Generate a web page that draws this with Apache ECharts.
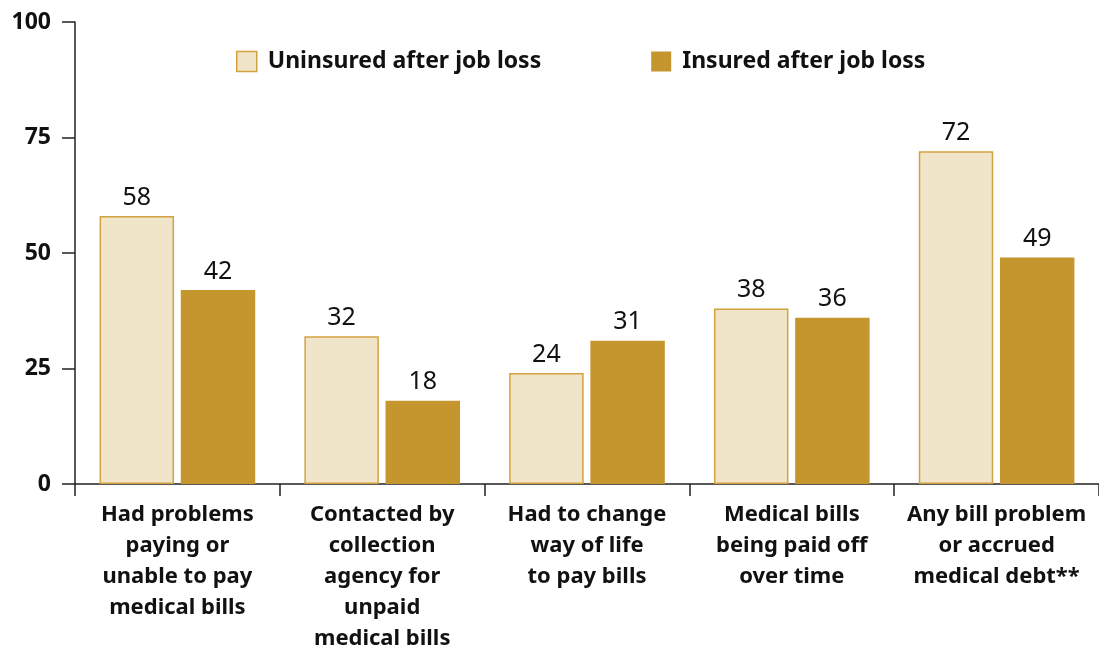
<!DOCTYPE html>
<html>
<head>
<meta charset="utf-8">
<script src="https://cdn.jsdelivr.net/npm/echarts@6/dist/echarts.min.js"></script>
<style>
  html, body { margin: 0; padding: 0; background: #fff; }
  #chart { width: 1099px; height: 654px; }
</style>
</head>
<body>
<div id="chart"></div>
<script>
// data
const categories = [
  "Had problems\npaying or\nunable to pay\nmedical bills",
  "Contacted by\ncollection\nagency for\nunpaid\nmedical bills",
  "Had to change\nway of life\nto pay bills",
  "Medical bills\nbeing paid off\nover time",
  "Any bill problem\nor accrued\nmedical debt**"
];
const uninsured = [58, 32, 24, 38, 72];
const insured = [42, 18, 31, 36, 49];
const seriesNames = ["Uninsured after job loss", "Insured after job loss"];

const FONT = "'Noto Sans', sans-serif";
const LIGHT = "#F0E5C8";
const LIGHT_BORDER = "#D3A240";
const DARK = "#C6962E";

const chart = echarts.init(document.getElementById("chart"));

chart.setOption({
  animation: false,
  textStyle: { fontFamily: FONT, color: "#111" },
  grid: { left: 75, right: 0, top: 22, bottom: 170, outerBoundsMode: "none" },
  legend: {
    left: 231,
    top: 45,
    itemWidth: 20,
    itemHeight: 20,
    itemGap: 110,
    textStyle: { fontSize: 23, fontWeight: "bold", color: "#111", padding: [0, 0, 0, 6] },
    data: [
      { name: seriesNames[0], icon: "rect", itemStyle: { color: LIGHT, borderColor: LIGHT_BORDER, borderWidth: 1.5 } },
      { name: seriesNames[1], icon: "rect", itemStyle: { color: DARK, borderWidth: 0 } }
    ]
  },
  xAxis: {
    type: "category",
    data: categories,
    axisLine: { lineStyle: { color: "#222", width: 1.5 } },
    axisTick: { show: true, length: 12, lineStyle: { color: "#222", width: 1.5 } },
    axisLabel: {
      interval: 0,
      margin: 15,
      fontSize: 22,
      fontWeight: "bold",
      lineHeight: 31,
      color: "#111"
    }
  },
  yAxis: {
    type: "value",
    min: 0,
    max: 100,
    interval: 25,
    splitLine: { show: false },
    axisLine: { show: true, lineStyle: { color: "#222", width: 1.5 } },
    axisTick: { show: true, length: 13, lineStyle: { color: "#222", width: 1.5 } },
    axisLabel: { margin: 24, fontSize: 23, fontWeight: "bold", color: "#111" }
  },
  series: [
    {
      name: seriesNames[0],
      type: "bar",
      data: uninsured,
      barGap: "9%",
      barCategoryGap: "24%",
      itemStyle: { color: LIGHT, borderColor: LIGHT_BORDER, borderWidth: 1.5 },
      label: { show: true, position: "top", distance: 6, fontSize: 25, color: "#111" }
    },
    {
      name: seriesNames[1],
      type: "bar",
      data: insured,
      itemStyle: { color: DARK },
      label: { show: true, position: "top", distance: 6, fontSize: 25, color: "#111" }
    }
  ]
});
</script>
</body>
</html>
